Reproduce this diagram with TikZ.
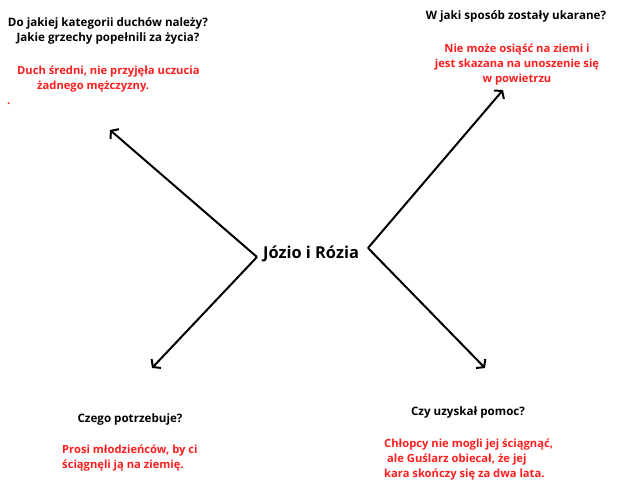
\documentclass[tikz,border=0pt]{standalone}
\usepackage{fontspec}
\setmainfont{Open Sans}
\usetikzlibrary{arrows.meta}
\definecolor{tred}{RGB}{255,30,30}
\begin{document}
\begin{tikzpicture}[x=1pt,y=-1pt,
  question/.style={font=\fontsize{11.6}{15}\selectfont\bfseries, text=black, inner sep=0pt, anchor=base},
  answer/.style={font=\fontsize{11.2}{15}\selectfont\bfseries, text=tred, inner sep=0pt, anchor=base},
  spoke/.style={line width=2pt, -{Straight Barb[length=5pt,width=13pt,line width=2pt]}}]
\useasboundingbox[fill=white] (0,0) rectangle (640,487);
% centre
\node[font=\fontsize{16.4}{19}\selectfont\bfseries, inner sep=0pt, anchor=base] (hub) at (311,258) {Józio i Rózia};
\coordinate (lv) at (257,257);
\coordinate (rv) at (368,248);
\coordinate (tl) at (110,130);
\coordinate (bl) at (152,368);
\coordinate (tr) at (503,90);
\coordinate (br) at (485,368);
\draw[spoke] (lv) -- (tl);
\draw[spoke] (lv) -- (bl);
\draw[spoke] (rv) -- (tr);
\draw[spoke] (rv) -- (br);
% top left
\node[question, align=center] (q1) at (108,42) {Do jakiej kategorii duchów należy?\\Jakie grzechy popełnili za życia?};
\node[answer, align=left, anchor=base west] (a1) at (17,89) {Duch średni, nie przyjęła uczucia\\\hspace*{20pt}żadnego mężczyzny.};
\node[answer, anchor=base west] (dot) at (7,104) {.};
% top right
\node[question] (q2) at (516,20) {W jaki sposób zostały ukarane?};
\node[answer, align=center] (a2) at (517,82) {Nie może osiąść na ziemi i\\jest skazana na unoszenie się\\w powietrzu};
% bottom left
\node[question] (q3) at (130,422) {Czego potrzebuje?};
\node[answer, align=left, anchor=base west] (a3) at (62,468) {Prosi młodzieńców, by ci\\ściągnęli ją na ziemię.};
% bottom right
\node[question] (q4) at (468,415) {Czy uzyskał pomoc?};
\node[answer, align=left, anchor=base west] (a4) at (384,477) {Chłopcy nie mogli jej ściągnąć,\\\hspace*{3pt}ale Guślarz obiecał, że jej\\kara skończy się za dwa lata.};
\end{tikzpicture}
\end{document}
